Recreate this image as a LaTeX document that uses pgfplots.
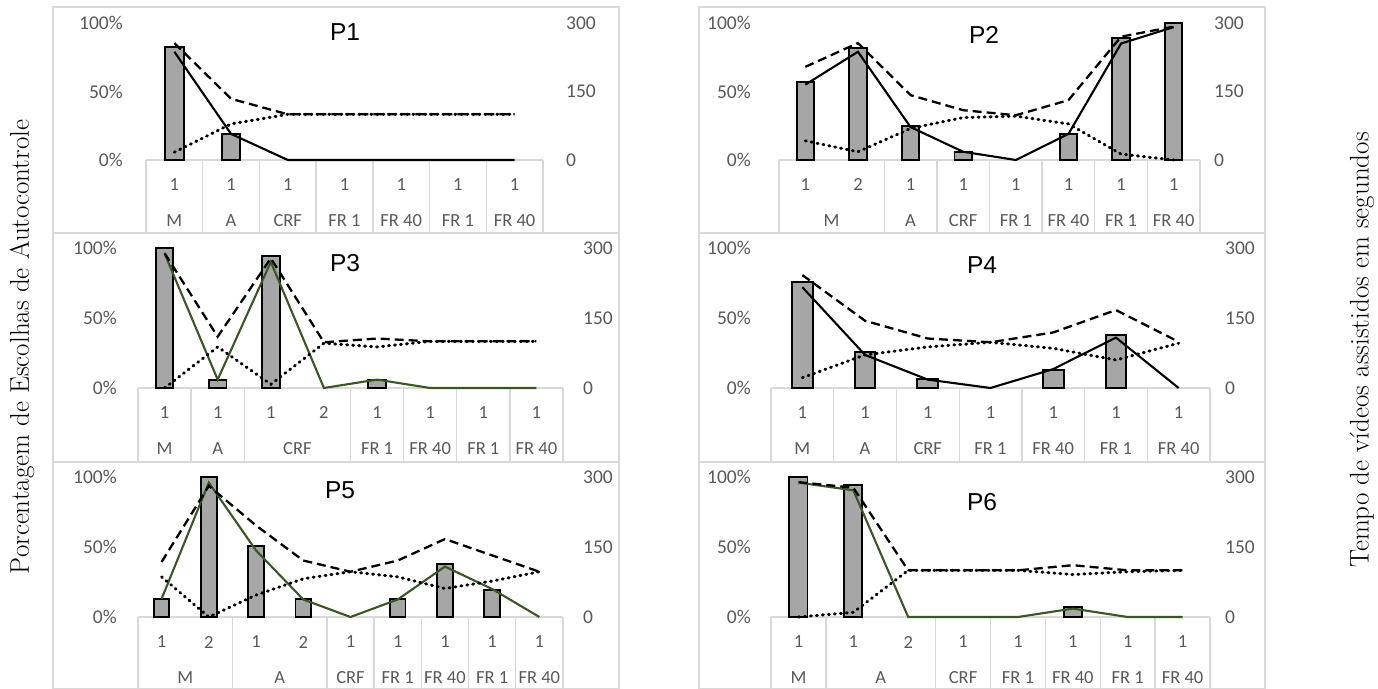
\documentclass[border=0pt]{standalone}
\usepackage{pgfplots}
\pgfplotsset{compat=1.18}
\usepackage{pgfplotstable}
\usepackage{fontspec}
\newfontfamily\calibri{Carlito}
\newfontfamily\arialf{Liberation Sans}
\definecolor{bargray}{HTML}{A6A6A6}
\definecolor{tickgray}{HTML}{595959}
\definecolor{gridgray}{HTML}{D9D9D9}
\definecolor{dgreen}{HTML}{385723}

% x bar solid dash dot  (bar, solid in %, dash/dot in seconds)
\pgfplotstableread{
x bar solid dash dot
0 82.5 79 256 17
1 19 19 134 79
2 nan 0 100 100
3 nan 0 100 100
4 nan 0 100 100
5 nan 0 100 100
6 nan 0 100 100
}\tPa
\pgfplotstableread{
x bar solid dash dot
0 57 55 204 42
1 82 79 256 18
2 25 24 142 69
3 6 6 109 93
4 nan 0 98 96
5 19 19 131 79
6 89 85 270 13
7 100 97 292 0
}\tPb
\pgfplotstableread{
x bar solid dash dot
0 100 96 289 0
1 6 6 110 88
2 94 90 278 8
3 nan 0 98 96
4 6 6 106 88
5 nan 0 100 100
6 nan 0 100 100
7 nan 0 100 100
}\tPc
\pgfplotstableread{
x bar solid dash dot
0 75.5 72 242 22
1 25.5 23.6 144 71
2 6.4 6 106 88
3 nan 0 98 98
4 13 13.5 119 85
5 38 36 167 60
6 nan 0 99 96
}\tPd
\pgfplotstableread{
x bar solid dash dot
0 13 13 118 86
1 100 96 281 0
2 50.5 47.5 196 47
3 13 12.5 121 82
4 nan 0 97 97
5 13 12.5 121 86
6 38 36 167 61
7 19 20 132 77
8 nan 0 97 97
}\tPe
\pgfplotstableread{
x bar solid dash dot
0 100 96 289 0
1 94 90.5 277 10
2 nan 0 100 100
3 nan 0 100 100
4 nan 0 100 100
5 7 6 111 91
6 nan 0 100 97
7 nan 0 100 100
}\tPf

\newcommand\catfont{\calibri\fontsize{18.5bp}{18.5bp}\selectfont}
\newcommand\tickfont{\calibri\fontsize{19.5bp}{19.5bp}\selectfont}

\pgfplotsset{
  base/.style={scale only axis, clip=false, enlargelimits=false,
    axis line style={draw=none}, major tick length=0pt, minor tick length=0pt,
    tick style={draw=none}},
  geom/.style n args={4}{at={(#1bp,#2bp)}, anchor=south west, width=#3bp, height=#4bp},
  prim/.style n args={2}{base, ymin=0, ymax=100, xmin=-0.5, xmax=#1,
    ytick={0,50,100}, yticklabels={0\%,50\%,100\%},
    yticklabel style={font=\tickfont, text=tickgray, anchor=east, inner sep=0pt, xshift=-#2bp},
    xticklabel style={font=\catfont, text=tickgray, anchor=center, inner sep=0pt, yshift=-25bp}},
  sec/.style n args={2}{base, ymin=0, ymax=300, xmin=-0.5, xmax=#1,
    ytick={0,150,300}, yticklabels={0,150,300}, xtick=\empty, yticklabel pos=right,
    yticklabel style={font=\tickfont, text=tickgray, anchor=west, inner sep=0pt, xshift=#2bp}},
  barst/.style={ybar, bar width=0.33, fill=bargray, draw=black, line width=1.9bp},
  solidst/.style={no marks, line width=2.1bp, #1},
  dashst/.style={no marks, line width=2.3bp, black, dash pattern=on 9bp off 5bp},
  dotst/.style={no marks, line width=3bp, black, line cap=round, dash pattern=on 1bp off 5bp},
}
\tikzset{
  catlab/.style={font=\catfont, text=tickgray, inner sep=0pt, anchor=center},
  tbl/.style={draw=gridgray, line width=1.3bp},
}

\begin{document}
\begin{tikzpicture}
% panel frames
\draw[tbl] (53bp,456bp) rectangle (619bp,682bp);
\draw[tbl] (699bp,456bp) rectangle (1265bp,682bp);
\draw[tbl] (53bp,227bp) rectangle (619bp,456bp);
\draw[tbl] (699bp,227bp) rectangle (1265bp,456bp);
\draw[tbl] (53bp,0.7bp) rectangle (619bp,227bp);
\draw[tbl] (699bp,0.7bp) rectangle (1265bp,227bp);

% ---------------- P1 ----------------
\begin{axis}[prim={6.5}{23}, geom={146}{529}{397}{137},
  xtick={0,...,6}, xticklabels={1,1,1,1,1,1,1}]
\pgfplotsinvokeforeach{-0.5,0.5,...,6.5}{\draw[tbl] (axis cs:#1,0) -- ([yshift=-73bp]axis cs:#1,0);}
\draw[tbl] (axis cs:-0.5,0) -- (axis cs:6.5,0);
\node[catlab] at ([yshift=-60.5bp]axis cs:0,0) {M};
\node[catlab] at ([yshift=-60.5bp]axis cs:1,0) {A};
\node[catlab] at ([yshift=-60.5bp]axis cs:2,0) {CRF};
\node[catlab] at ([yshift=-60.5bp]axis cs:3,0) {FR 1};
\node[catlab] at ([yshift=-60.5bp]axis cs:4,0) {FR 40};
\node[catlab] at ([yshift=-60.5bp]axis cs:5,0) {FR 1};
\node[catlab] at ([yshift=-60.5bp]axis cs:6,0) {FR 40};
\addplot[barst] table[x=x,y=bar]{\tPa};
\addplot[solidst=black] table[x=x,y=solid]{\tPa};
\end{axis}
\begin{axis}[sec={6.5}{23}, geom={146}{529}{397}{137}]
\addplot[dashst] table[x=x,y=dash]{\tPa};
\addplot[dotst] table[x=x,y=dot]{\tPa};
\end{axis}

% ---------------- P2 ----------------
\begin{axis}[prim={7.5}{28}, geom={779}{529}{421}{137},
  xtick={0,...,7}, xticklabels={1,2,1,1,1,1,1,1}]
\pgfplotsinvokeforeach{-0.5,1.5,2.5,3.5,4.5,5.5,6.5,7.5}{\draw[tbl] (axis cs:#1,0) -- ([yshift=-73bp]axis cs:#1,0);}
\draw[tbl] (axis cs:-0.5,0) -- (axis cs:7.5,0);
\node[catlab] at ([yshift=-60.5bp]axis cs:0.5,0) {M};
\node[catlab] at ([yshift=-60.5bp]axis cs:2,0) {A};
\node[catlab] at ([yshift=-60.5bp]axis cs:3,0) {CRF};
\node[catlab] at ([yshift=-60.5bp]axis cs:4,0) {FR 1};
\node[catlab] at ([yshift=-60.5bp]axis cs:5,0) {FR 40};
\node[catlab] at ([yshift=-60.5bp]axis cs:6,0) {FR 1};
\node[catlab] at ([yshift=-60.5bp]axis cs:7,0) {FR 40};
\addplot[barst] table[x=x,y=bar]{\tPb};
\addplot[solidst=black] table[x=x,y=solid]{\tPb};
\end{axis}
\begin{axis}[sec={7.5}{14}, geom={779}{529}{421}{137}]
\addplot[dashst] table[x=x,y=dash]{\tPb};
\addplot[dotst] table[x=x,y=dot]{\tPb};
\end{axis}

% ---------------- P3 ----------------
\begin{axis}[prim={7.5}{21}, geom={138}{301}{425}{140},
  xtick={0,...,7}, xticklabels={1,1,1,2,1,1,1,1}]
\pgfplotsinvokeforeach{-0.5,0.5,1.5,3.5,4.5,5.5,6.5,7.5}{\draw[tbl] (axis cs:#1,0) -- ([yshift=-74bp]axis cs:#1,0);}
\draw[tbl] (axis cs:-0.5,0) -- (axis cs:7.5,0);
\node[catlab] at ([yshift=-60.5bp]axis cs:0,0) {M};
\node[catlab] at ([yshift=-60.5bp]axis cs:1,0) {A};
\node[catlab] at ([yshift=-60.5bp]axis cs:2.5,0) {CRF};
\node[catlab] at ([yshift=-60.5bp]axis cs:4,0) {FR 1};
\node[catlab] at ([yshift=-60.5bp]axis cs:5,0) {FR 40};
\node[catlab] at ([yshift=-60.5bp]axis cs:6,0) {FR 1};
\node[catlab] at ([yshift=-60.5bp]axis cs:7,0) {FR 40};
\addplot[barst] table[x=x,y=bar]{\tPc};
\addplot[solidst=dgreen] table[x=x,y=solid]{\tPc};
\end{axis}
\begin{axis}[sec={7.5}{20}, geom={138}{301}{425}{140}]
\addplot[dashst] table[x=x,y=dash]{\tPc};
\addplot[dotst] table[x=x,y=dot]{\tPc};
\end{axis}

% ---------------- P4 ----------------
\begin{axis}[prim={6.5}{20}, geom={771}{301}{439}{140},
  xtick={0,...,6}, xticklabels={1,1,1,1,1,1,1}]
\pgfplotsinvokeforeach{-0.5,0.5,...,6.5}{\draw[tbl] (axis cs:#1,0) -- ([yshift=-74bp]axis cs:#1,0);}
\draw[tbl] (axis cs:-0.5,0) -- (axis cs:6.5,0);
\node[catlab] at ([yshift=-60.5bp]axis cs:0,0) {M};
\node[catlab] at ([yshift=-60.5bp]axis cs:1,0) {A};
\node[catlab] at ([yshift=-60.5bp]axis cs:2,0) {CRF};
\node[catlab] at ([yshift=-60.5bp]axis cs:3,0) {FR 1};
\node[catlab] at ([yshift=-60.5bp]axis cs:4,0) {FR 40};
\node[catlab] at ([yshift=-60.5bp]axis cs:5,0) {FR 1};
\node[catlab] at ([yshift=-60.5bp]axis cs:6,0) {FR 40};
\addplot[barst] table[x=x,y=bar]{\tPd};
\addplot[solidst=black] table[x=x,y=solid]{\tPd};
\end{axis}
\begin{axis}[sec={6.5}{15}, geom={771}{301}{439}{140}]
\addplot[dashst] table[x=x,y=dash]{\tPd};
\addplot[dotst] table[x=x,y=dot]{\tPd};
\end{axis}

% ---------------- P5 ----------------
\begin{axis}[prim={8.5}{21}, geom={138}{72}{425}{140},
  xtick={0,...,8}, xticklabels={1,2,1,2,1,1,1,1,1}]
\pgfplotsinvokeforeach{-0.5,1.5,3.5,4.5,5.5,6.5,7.5,8.5}{\draw[tbl] (axis cs:#1,0) -- ([yshift=-72bp]axis cs:#1,0);}
\draw[tbl] (axis cs:-0.5,0) -- (axis cs:8.5,0);
\node[catlab] at ([yshift=-60.5bp]axis cs:0.5,0) {M};
\node[catlab] at ([yshift=-60.5bp]axis cs:2.5,0) {A};
\node[catlab] at ([yshift=-60.5bp]axis cs:4,0) {CRF};
\node[catlab] at ([yshift=-60.5bp]axis cs:5,0) {FR 1};
\node[catlab] at ([yshift=-60.5bp]axis cs:6,0) {FR 40};
\node[catlab] at ([yshift=-60.5bp]axis cs:7,0) {FR 1};
\node[catlab] at ([yshift=-60.5bp]axis cs:8,0) {FR 40};
\addplot[barst] table[x=x,y=bar]{\tPe};
\addplot[solidst=dgreen] table[x=x,y=solid]{\tPe};
\end{axis}
\begin{axis}[sec={8.5}{20}, geom={138}{72}{425}{140}]
\addplot[dashst] table[x=x,y=dash]{\tPe};
\addplot[dotst] table[x=x,y=dot]{\tPe};
\end{axis}

% ---------------- P6 ----------------
\begin{axis}[prim={7.5}{20}, geom={771}{72}{439}{140},
  xtick={0,...,7}, xticklabels={1,1,2,1,1,1,1,1}]
\pgfplotsinvokeforeach{-0.5,0.5,2.5,3.5,4.5,5.5,6.5,7.5}{\draw[tbl] (axis cs:#1,0) -- ([yshift=-72bp]axis cs:#1,0);}
\draw[tbl] (axis cs:-0.5,0) -- (axis cs:7.5,0);
\node[catlab] at ([yshift=-60.5bp]axis cs:0,0) {M};
\node[catlab] at ([yshift=-60.5bp]axis cs:1.5,0) {A};
\node[catlab] at ([yshift=-60.5bp]axis cs:3,0) {CRF};
\node[catlab] at ([yshift=-60.5bp]axis cs:4,0) {FR 1};
\node[catlab] at ([yshift=-60.5bp]axis cs:5,0) {FR 40};
\node[catlab] at ([yshift=-60.5bp]axis cs:6,0) {FR 1};
\node[catlab] at ([yshift=-60.5bp]axis cs:7,0) {FR 40};
\addplot[barst] table[x=x,y=bar]{\tPf};
\addplot[solidst=dgreen] table[x=x,y=solid]{\tPf};
\end{axis}
\begin{axis}[sec={7.5}{15}, geom={771}{72}{439}{140}]
\addplot[dashst] table[x=x,y=dash]{\tPf};
\addplot[dotst] table[x=x,y=dot]{\tPf};
\end{axis}

% titles
\tikzset{ptitle/.style={font=\arialf\fontsize{24.5bp}{25bp}\selectfont, inner sep=0pt}}
\node[ptitle] at (345bp,657bp) {P1};
\node[ptitle] at (984bp,654bp) {P2};
\node[ptitle] at (345bp,426bp) {P3};
\node[ptitle] at (982bp,424bp) {P4};
\node[ptitle] at (340bp,199bp) {P5};
\node[ptitle] at (982bp,187bp) {P6};

% axis titles
\node[rotate=90, inner sep=0pt, font=\fontsize{27bp}{30bp}\selectfont] at (22bp,342bp) {Porcentagem de Escolhas de Autocontrole};
\node[rotate=90, inner sep=0pt, font=\fontsize{27bp}{30bp}\selectfont] at (1362bp,339bp) {Tempo de vídeos assistidos em segundos};

\pgfresetboundingbox
\path[use as bounding box] (0,0) rectangle (1378bp,689bp);
\end{tikzpicture}
\end{document}
